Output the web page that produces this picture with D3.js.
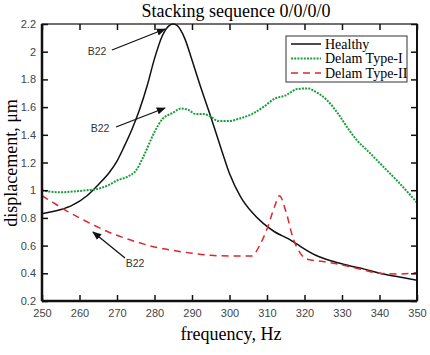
<!DOCTYPE html>
<html><head><meta charset="utf-8">
<script src="https://cdn.jsdelivr.net/npm/d3@7"></script>
<style>body{margin:0;background:#fff}</style>
</head><body><svg id="c" width="430" height="355"></svg>
<script>
const healthyF = [250,255,258,262,265,268,270,272,274,276,278,280,282,284,285,286,288,290,292,295,298,300,303,306,309,312,316,318,323,327,332,336,340,345,350];
const healthyV = [0.83,0.86,0.89,0.96,1.04,1.13,1.21,1.32,1.44,1.58,1.75,1.95,2.11,2.19,2.20,2.19,2.10,1.94,1.77,1.53,1.28,1.12,0.95,0.84,0.76,0.70,0.645,0.61,0.53,0.49,0.455,0.43,0.40,0.375,0.35];
const type1F = [250,252,255,258,262,265,268,270,273,275,277,280,282,285,287,289,291,293,295,297,300,303,306,309,312,315,318,321,323,326,329,332,334,337,341,345,350];
const type1V = [1.00,0.99,0.985,0.99,1.00,1.01,1.04,1.07,1.10,1.14,1.24,1.42,1.51,1.56,1.59,1.58,1.55,1.55,1.53,1.50,1.50,1.52,1.55,1.60,1.66,1.685,1.73,1.735,1.71,1.65,1.55,1.43,1.36,1.28,1.17,1.06,0.91];
const type2F = [250,253,256,260,264,268,272,276,280,285,290,295,300,306,308,310,312,313.3,315,317,319,321,325,330,335,340,345,350];
const type2V = [0.96,0.91,0.86,0.80,0.745,0.695,0.655,0.62,0.59,0.565,0.545,0.53,0.525,0.525,0.60,0.72,0.88,0.96,0.85,0.65,0.54,0.50,0.485,0.46,0.43,0.40,0.395,0.405];
const xTicks = [250,260,270,280,290,300,310,320,330,340,350];
const yTicks = [0.2,0.4,0.6,0.8,1,1.2,1.4,1.6,1.8,2,2.2];
const seriesNames = ["Healthy","Delam Type-I","Delam Type-II"];

const svg = d3.select("#c");
const L=42,R=417,T=24,B=301;
const x = d3.scaleLinear().domain([250,350]).range([L,R]);
const y = d3.scaleLinear().domain([0.2,2.2]).range([B,T]);
const serif = "'Liberation Serif','Times New Roman',serif";
const sans = "'Liberation Sans',Arial,sans-serif";

const styles = [
  {stroke:"#111", width:1.5, dash:null},
  {stroke:"#1a9e3a", width:2, dash:"2,1.2"},
  {stroke:"#e0262b", width:1.5, dash:"7,5"}
];
const data = [[healthyF,healthyV],[type1F,type1V],[type2F,type2V]];

const g = svg.append("g");
const line = d3.line().x(d=>x(d[0])).y(d=>y(d[1])).curve(d3.curveMonotoneX);
data.forEach((s,i)=>{
  const pts = s[0].map((f,j)=>[f,s[1][j]]);
  g.append("path").attr("d",line(pts)).attr("fill","none")
    .attr("stroke",styles[i].stroke).attr("stroke-width",styles[i].width)
    .attr("stroke-dasharray",styles[i].dash);
});

// axes
const ax = (gen, tr)=>{
  const a = svg.append("g").attr("transform",tr).call(gen);
  a.select(".domain").remove();
  a.selectAll("line").attr("stroke","#111").attr("stroke-width",1.5);
  return a;
};
const bx = ax(d3.axisBottom(x).tickValues(xTicks).tickSize(-6).tickPadding(8).tickFormat(d3.format("d")),`translate(0,${B})`);
bx.selectAll("text").attr("font-family",sans).attr("font-size",11).attr("fill","#444");
ax(d3.axisTop(x).tickValues(xTicks).tickSize(-6).tickFormat(""),`translate(0,${T})`);
const ly = ax(d3.axisLeft(y).tickValues(yTicks).tickSize(-6).tickPadding(6).tickFormat(d=>d3.format("")(+d.toFixed(1))),`translate(${L},0)`);
ly.selectAll("text").attr("font-family",sans).attr("font-size",11).attr("fill","#444");
ax(d3.axisRight(y).tickValues(yTicks).tickSize(-6).tickFormat(""),`translate(${R},0)`);

svg.append("rect").attr("x",L).attr("y",T).attr("width",R-L).attr("height",B-T)
  .attr("fill","none").attr("stroke","#111").attr("stroke-width",1.2);
svg.append("line").attr("x1",L).attr("x2",R).attr("y1",B).attr("y2",B).attr("stroke","#111").attr("stroke-width",2.5);
svg.append("line").attr("x1",L).attr("x2",L).attr("y1",T).attr("y2",B).attr("stroke","#111").attr("stroke-width",2.5);
svg.append("line").attr("x1",R).attr("x2",R).attr("y1",T).attr("y2",B).attr("stroke","#111").attr("stroke-width",2);

// titles
svg.append("text").attr("x",236).attr("y",17).attr("text-anchor","middle")
  .attr("font-family",serif).attr("font-size",18).text("Stacking sequence 0/0/0/0");
svg.append("text").attr("x",231).attr("y",340).attr("text-anchor","middle")
  .attr("font-family",serif).attr("font-size",18).text("frequency, Hz");
svg.append("text").attr("transform","translate(17,163) rotate(-90)").attr("text-anchor","middle")
  .attr("font-family",serif).attr("font-size",18).text("displacement, μm");

// legend
const lg = svg.append("g");
lg.append("rect").attr("x",286).attr("y",36).attr("width",121).attr("height",46)
  .attr("fill","#fff").attr("stroke","#333").attr("stroke-width",1);
seriesNames.forEach((n,i)=>{
  const yy = 44+i*14.5;
  lg.append("line").attr("x1",291).attr("x2",321).attr("y1",yy).attr("y2",yy)
    .attr("stroke",styles[i].stroke).attr("stroke-width",styles[i].width).attr("stroke-dasharray",styles[i].dash);
  lg.append("text").attr("x",325).attr("y",yy+4.5).attr("font-family",serif).attr("font-size",14).text(n);
});

// annotations
const defs = svg.append("defs");
defs.append("marker").attr("id","ah").attr("viewBox","0 0 10 10").attr("refX",9).attr("refY",5)
  .attr("markerWidth",7).attr("markerHeight",7).attr("orient","auto")
  .append("path").attr("d","M0,1 L10,5 L0,9 Z").attr("fill","#111");
const ann = [
  {tx:97,ty:55,x1:112,y1:50,x2:165,y2:29},
  {tx:100,ty:132,x1:116,y1:127,x2:165,y2:108},
  {tx:135,ty:267,x1:125,y1:258,x2:93,y2:232}
];
ann.forEach(a=>{
  svg.append("text").attr("x",a.tx).attr("y",a.ty).attr("text-anchor","middle")
    .attr("font-family",sans).attr("font-size",10.5).attr("fill","#333").text("B22");
  svg.append("line").attr("x1",a.x1).attr("y1",a.y1).attr("x2",a.x2).attr("y2",a.y2)
    .attr("stroke","#111").attr("stroke-width",1.3).attr("marker-end","url(#ah)");
});
</script></body></html>
